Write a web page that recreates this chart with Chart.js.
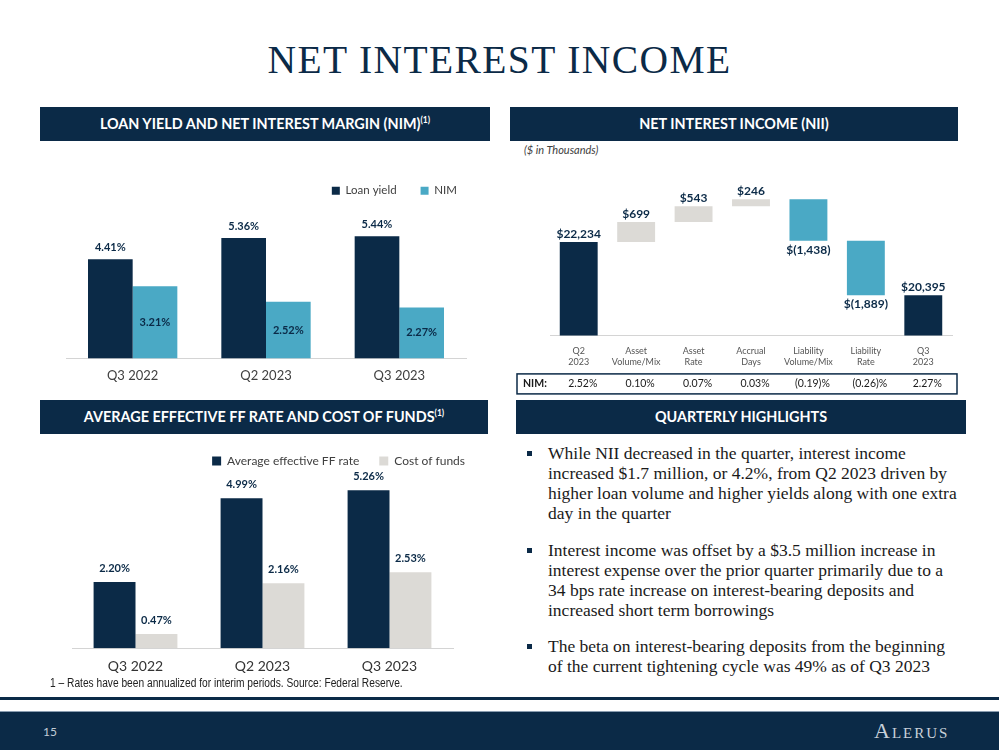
<!DOCTYPE html>
<html>
<head>
<meta charset="utf-8">
<script src="https://cdn.jsdelivr.net/npm/chart.js@4.4.0/dist/chart.umd.min.js"></script>
<style>
  body { margin: 0; width: 999px; height: 750px; position: relative; overflow: hidden; background: #fff; font-family: Lato, sans-serif; }
  #title { position: absolute; left: 0; top: 37px; width: 999px; text-align: center; font-family: "Liberation Serif", serif; font-size: 39.5px; letter-spacing: 1.4px; line-height: 46px; color: #0b2a47; }
  .head { position: absolute; height: 34px; line-height: 34px; background: #0b2a47; color: #fff; font-weight: bold; font-size: 14.4px; text-align: center; }
  .head sup { font-size: 8.5px; line-height: 0; vertical-align: 6px; }
  .box { position: absolute; }
  #unit { position: absolute; left: 524px; top: 143px; font-size: 11px; font-style: italic; color: #404040; }
  #note { position: absolute; left: 50px; top: 676px; font-family: "Liberation Sans", sans-serif; font-size: 12px; color: #222; white-space: nowrap; transform: scaleX(0.85); transform-origin: left center; }
  #points { position: absolute; left: 548px; top: 443px; font-family: "Liberation Serif", serif; font-size: 17.5px; line-height: 20px; color: #1a1a1a; white-space: nowrap; }
  #points p { margin: 0 0 16.5px 0; position: relative; }
  #points p::before { content: ""; position: absolute; left: -21px; top: 8px; width: 5px; height: 5px; background: #0b2a47; }
  #rule { position: absolute; left: 0; top: 697px; width: 999px; height: 3px; background: #0b2a47; }
  #foot { position: absolute; left: 0; top: 711px; width: 999px; height: 39px; background: #0b2a47; border-top: 1px solid #8a9db0; }
  #page { position: absolute; left: 43px; top: 12px; font-size: 12px; color: #c2ccd6; }
  #logo { position: absolute; left: 874px; top: 6px; font-family: "Liberation Serif", serif; font-size: 22px; font-variant: small-caps; letter-spacing: 2px; color: #c8d1da; }
</style>
</head>
<body>
<div id="title">NET INTEREST INCOME</div>

<div class="head" style="left:40px; top:107px; width:450px;">LOAN YIELD AND NET INTEREST MARGIN (NIM)<sup>(1)</sup></div>
<div class="head" style="left:510px; top:107px; width:448px;">NET INTEREST INCOME (NII)</div>
<div class="head" style="left:40px; top:400px; width:448px;">AVERAGE EFFECTIVE FF RATE AND COST OF FUNDS<sup>(1)</sup></div>
<div class="head" style="left:516px; top:400px; width:450px;">QUARTERLY HIGHLIGHTS</div>

<div class="box" style="left:40px; top:150px;"><canvas id="yieldChart" width="450" height="248"></canvas></div>
<div id="unit">($ in Thousands)</div>
<div class="box" style="left:510px; top:160px;"><canvas id="niiChart" width="450" height="240"></canvas></div>
<div class="box" style="left:40px; top:430px;"><canvas id="ffChart" width="450" height="260"></canvas></div>
<div id="note">1 – Rates have been annualized for interim periods. Source: Federal Reserve.</div>

<div id="points">
  <p>While NII decreased in the quarter, interest income<br>increased $1.7 million, or 4.2%, from Q2 2023 driven by<br>higher loan volume and higher yields along with one extra<br>day in the quarter</p>
  <p>Interest income was offset by a $3.5 million increase in<br>interest expense over the prior quarter primarily due to a<br>34 bps rate increase on interest-bearing deposits and<br>increased short term borrowings</p>
  <p>The beta on interest-bearing deposits from the beginning<br>of the current tightening cycle was 49% as of Q3 2023</p>
</div>

<div id="rule"></div>
<div id="foot"><div id="page">15</div><div id="logo">Alerus</div></div>

<script>
// donnees
const quarters = ['Q3 2022', 'Q2 2023', 'Q3 2023'];
const loanYield = [4.41, 5.36, 5.44];
const nim = [3.21, 2.52, 2.27];
const ffRate = [2.20, 4.99, 5.26];
const costOfFunds = [0.47, 2.16, 2.53];

const niiSteps = [['Q2', '2023'], ['Asset', 'Volume/Mix'], ['Asset', 'Rate'], ['Accrual', 'Days'],
                  ['Liability', 'Volume/Mix'], ['Liability', 'Rate'], ['Q3', '2023']];
const niiValues = [22234, 699, 543, 246, -1438, -1889, 20395];
const niiLabels = ['$22,234', '$699', '$543', '$246', '$(1,438)', '$(1,889)', '$20,395'];
const nimChanges = ['2.52%', '0.10%', '0.07%', '0.03%', '(0.19)%', '(0.26)%', '2.27%'];

const NAVY = '#0b2a47';
const TEAL = '#4aa9c5';
const GREY = '#dcdad6';

Chart.defaults.font.family = 'Lato, sans-serif';
Chart.defaults.animation = false;
Chart.defaults.devicePixelRatio = 1;
Chart.defaults.plugins.tooltip.enabled = false;

// etiquettes de valeur sur les barres
const valueLabels = {
  id: 'valueLabels',
  afterDatasetsDraw(chart, args, opts) {
    const ctx = chart.ctx;
    ctx.save();
    ctx.font = 'bold ' + opts.size + 'px Lato';
    ctx.fillStyle = NAVY;
    ctx.textAlign = 'center';
    ctx.textBaseline = 'middle';
    chart.data.datasets.forEach((ds, di) => {
      chart.getDatasetMeta(di).data.forEach((bar, i) => {
        const top = Math.min(bar.y, bar.base);
        const bottom = Math.max(bar.y, bar.base);
        const where = opts.where(di, i);
        let y = top - opts.gap;
        if (where === 'center') y = (top + bottom) / 2;
        if (where === 'below') y = bottom + opts.gap + 1;
        ctx.fillText(opts.text(di, i), bar.x, y);
      });
    });
    ctx.restore();
  }
};

// decale la legende vers la droite
const legendShift = {
  id: 'legendShift',
  afterLayout(chart, args, opts) {
    if (chart.legend && opts.dx) {
      chart.legend.left += opts.dx;
      chart.legend.right += opts.dx;
    }
  }
};

function pct(v) { return v.toFixed(2) + '%'; }

function xAxis(size, color) {
  return {
    grid: { display: false, drawTicks: false },
    border: { color: '#d4d4d4' },
    ticks: { font: { size: size }, color: color, padding: 10 },
    z: 1
  };
}

// graphique 1 : rendement des prets et NIM
new Chart(document.getElementById('yieldChart'), {
  type: 'bar',
  data: {
    labels: quarters,
    datasets: [
      { label: 'Loan yield', data: loanYield, backgroundColor: NAVY },
      { label: 'NIM', data: nim, backgroundColor: TEAL }
    ]
  },
  options: {
    responsive: false,
    layout: { padding: { left: 26, right: 24, top: 11, bottom: 4 } },
    datasets: { bar: { categoryPercentage: 0.67, barPercentage: 1 } },
    scales: {
      x: xAxis(13, '#404040'),
      y: { display: false, min: 0, max: 6.76 }
    },
    plugins: {
      legend: { align: 'end', labels: { boxWidth: 8, boxHeight: 8, padding: 24, font: { size: 11.5 }, color: '#404040' } },
      legendShift: { dx: 15 },
      valueLabels: {
        size: 11, gap: 12,
        where: (di) => di === 0 ? 'above' : 'center',
        text: (di, i) => pct(di === 0 ? loanYield[i] : nim[i])
      }
    }
  },
  plugins: [valueLabels, legendShift]
});

// graphique 3 : taux FF et cout des fonds
new Chart(document.getElementById('ffChart'), {
  type: 'bar',
  data: {
    labels: quarters,
    datasets: [
      { label: 'Average effective FF rate', data: ffRate, backgroundColor: NAVY },
      { label: 'Cost of funds', data: costOfFunds, backgroundColor: GREY }
    ]
  },
  options: {
    responsive: false,
    layout: { padding: { left: 32, right: 37, top: 5, bottom: 5 } },
    datasets: { bar: { categoryPercentage: 0.66, barPercentage: 1 } },
    scales: {
      x: xAxis(14, '#333'),
      y: { display: false, min: 0, max: 5.7 }
    },
    plugins: {
      legend: { align: 'end', labels: { boxWidth: 9, boxHeight: 9, padding: 20, font: { size: 12 }, color: '#404040' } },
      legendShift: { dx: 32 },
      valueLabels: {
        size: 11, gap: 14,
        where: () => 'above',
        text: (di, i) => pct(di === 0 ? ffRate[i] : costOfFunds[i])
      }
    }
  },
  plugins: [valueLabels, legendShift]
});

// graphique 2 : cascade du NII
let running = 0;
const niiRanges = niiValues.map((v, i) => {
  if (i === 0 || i === niiValues.length - 1) { running = v; return [0, v]; }
  const start = running;
  running += v;
  return [start, running];
});
const niiColors = niiValues.map((v, i) =>
  (i === 0 || i === niiValues.length - 1) ? NAVY : (v > 0 ? GREY : TEAL));

const nimRow = {
  id: 'nimRow',
  afterDraw(chart) {
    const ctx = chart.ctx;
    const x = chart.scales.x;
    const mid = chart.chartArea.bottom + 48.5;
    ctx.save();
    ctx.strokeStyle = NAVY;
    ctx.lineWidth = 1.5;
    ctx.strokeRect(7, mid - 10, 440, 20);
    ctx.fillStyle = '#1a1a1a';
    ctx.textBaseline = 'middle';
    ctx.font = 'bold 10.5px Lato';
    ctx.textAlign = 'left';
    ctx.fillText('NIM:', 13, mid);
    ctx.font = '10.5px Lato';
    ctx.textAlign = 'center';
    nimChanges.forEach((t, i) => ctx.fillText(t, x.getPixelForValue(i) + 4, mid));
    ctx.restore();
  }
};

new Chart(document.getElementById('niiChart'), {
  type: 'bar',
  data: {
    labels: niiSteps,
    datasets: [{ label: 'NII', data: niiRanges, backgroundColor: niiColors }]
  },
  options: {
    responsive: false,
    layout: { padding: { left: 40, right: 8, top: 11, bottom: 23 } },
    datasets: { bar: { categoryPercentage: 1, barPercentage: 0.66 } },
    scales: {
      x: xAxis(9, '#555'),
      y: { display: false, min: 19000, max: 24700 }
    },
    plugins: {
      legend: { display: false },
      valueLabels: {
        size: 12, gap: 8,
        where: (di, i) => niiValues[i] < 0 ? 'below' : 'above',
        text: (di, i) => niiLabels[i]
      }
    }
  },
  plugins: [valueLabels, nimRow]
});
</script>
</body>
</html>
